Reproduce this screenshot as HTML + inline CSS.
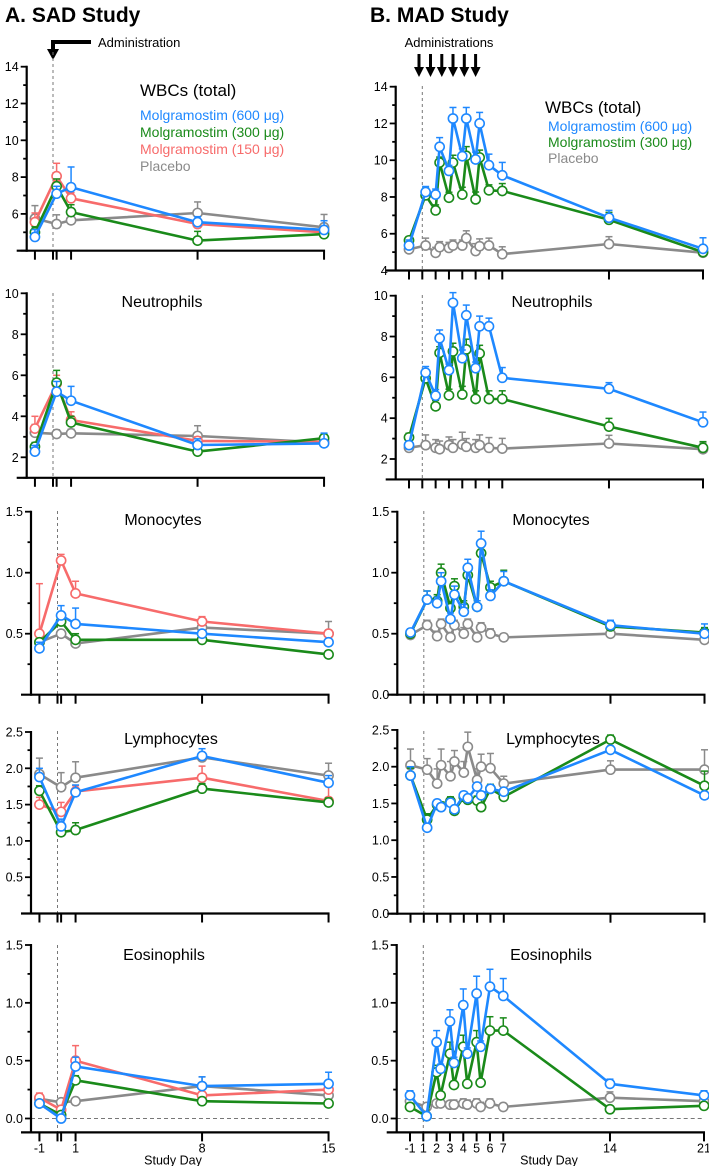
<!DOCTYPE html>
<html><head><meta charset="utf-8">
<style>
html,body{margin:0;padding:0;background:#fff;}
svg{display:block;font-family:"Liberation Sans",sans-serif;}
</style></head>
<body>
<svg id="fig" width="709" height="1166" viewBox="0 0 709 1166">
<text x="5" y="22" font-size="21" font-weight="bold">A. SAD Study</text>
<text x="370" y="22" font-size="21" font-weight="bold">B. MAD Study</text>
<g>
<polyline points="91,42 53,42 53,50" fill="none" stroke="#000" stroke-width="4"/>
<polygon points="47,49 59,49 53,60" fill="#000"/>
<text x="98" y="47" font-size="13">Administration</text>
</g>
<g id="madArrows">
<text x="449" y="47" font-size="13" text-anchor="middle">Administrations</text>
</g>
</svg>
<script>
// ---------- DATA ----------
const sadDays = [-1, 0.2, 1, 8, 15];
const madDays = [-1, 1.25, 2, 2.3, 3, 3.3, 4, 4.3, 5, 5.3, 6, 7, 14, 21];

const sadWbcBlue = [4.75, 7.1, 7.45, 5.55, 5.13];
const sadWbcRed = [5.55, 8.05, 6.85, 5.45, 5.0];
const sadWbcGreen = [5.0, 7.5, 6.1, 4.55, 4.9];
const sadWbcGray = [5.75, 5.45, 5.65, 6.05, 5.27];
const sadWbcBlueErr = [0.4, 0.4, 1.1, 0.3, 0.5];
const sadWbcRedErr = [0.5, 0.7, 0.3, 0.2, 0.2];
const sadWbcGreenErr = [0.3, 0.4, 0.4, 0.5, 0.1];
const sadWbcGrayErr = [0.7, 0.5, 0.3, 0.6, 0.7];

const sadNeuBlue = [2.28, 5.2, 4.76, 2.6, 2.68];
const sadNeuRed = [3.4, 5.6, 3.82, 2.8, 2.76];
const sadNeuGreen = [2.52, 5.64, 3.7, 2.28, 2.93];
const sadNeuGray = [3.2, 3.14, 3.17, 3.04, 2.72];
const sadNeuBlueErr = [0.3, 0.5, 0.7, 0.3, 0.5];
const sadNeuRedErr = [0.6, 0.4, 0.4, 0.2, 0.2];
const sadNeuGreenErr = [0.2, 0.6, 0.3, 0.2, 0.2];
const sadNeuGrayErr = [0.4, 0.2, 0.2, 0.5, 0.4];

const sadMonoBlue = [0.38, 0.65, 0.58, 0.5, 0.43];
const sadMonoRed = [0.5, 1.1, 0.83, 0.6, 0.5];
const sadMonoGreen = [0.43, 0.6, 0.45, 0.45, 0.33];
const sadMonoGray = [0.43, 0.5, 0.42, 0.55, 0.5];
const sadMonoBlueErr = [0.05, 0.08, 0.13, 0.03, 0.02];
const sadMonoRedErr = [0.41, 0.05, 0.1, 0.04, 0.03];
const sadMonoGreenErr = [0.03, 0.05, 0.05, 0.02, 0.03];
const sadMonoGrayErr = [0.03, 0.03, 0.03, 0.05, 0.1];

const sadLymBlue = [1.88, 1.2, 1.67, 2.17, 1.8];
const sadLymRed = [1.5, 1.4, 1.68, 1.87, 1.55];
const sadLymGreen = [1.69, 1.12, 1.15, 1.72, 1.53];
const sadLymGray = [1.92, 1.74, 1.87, 2.15, 1.9];
const sadLymBlueErr = [0.12, 0.1, 0.1, 0.1, 0.1];
const sadLymRedErr = [0.1, 0.13, 0.08, 0.16, 0.2];
const sadLymGreenErr = [0.07, 0.05, 0.1, 0.07, 0.06];
const sadLymGrayErr = [0.22, 0.2, 0.22, 0.05, 0.17];

const sadEosBlue = [0.13, 0.0, 0.45, 0.28, 0.3];
const sadEosRed = [0.18, 0.075, 0.5, 0.2, 0.25];
const sadEosGreen = [0.13, 0.03, 0.33, 0.15, 0.13];
const sadEosGray = [0.17, 0.14, 0.15, 0.28, 0.2];
const sadEosBlueErr = [0.03, 0.02, 0.08, 0.08, 0.1];
const sadEosRedErr = [0.04, 0.03, 0.13, 0.03, 0.08];
const sadEosGreenErr = [0.02, 0.01, 0.04, 0.02, 0.01];
const sadEosGrayErr = [0.03, 0.03, 0.02, 0.08, 0.03];

const madWbcBlue = [5.36, 8.27, 8.13, 10.73, 9.42, 12.27, 10.22, 12.27, 10.04, 12.0, 9.73, 9.18, 6.87, 5.18];
const madWbcGreen = [5.64, 8.09, 7.27, 9.87, 7.96, 9.87, 8.13, 10.24, 7.87, 10.15, 8.36, 8.33, 6.76, 5.0];
const madWbcGray = [5.15, 5.36, 4.96, 5.27, 5.23, 5.36, 5.36, 5.76, 5.06, 5.32, 5.36, 4.89, 5.44, 4.97];
const madWbcBlueErr = [0.3, 0.3, 0.3, 0.5, 0.3, 0.6, 0.4, 0.6, 0.4, 0.6, 0.6, 0.7, 0.4, 0.6];
const madWbcGreenErr = [0.2, 0.4, 0.3, 0.3, 0.3, 0.4, 0.4, 0.5, 0.4, 0.4, 0.3, 0.4, 0.4, 0.2];
const madWbcGrayErr = [0.2, 0.4, 0.3, 0.3, 0.3, 0.3, 0.3, 0.4, 0.4, 0.4, 0.4, 0.4, 0.4, 0.2];

const madNeuBlue = [2.68, 6.23, 5.1, 7.92, 6.35, 9.65, 6.94, 9.04, 6.45, 8.5, 8.5, 5.98, 5.44, 3.8];
const madNeuGreen = [3.06, 5.95, 4.58, 7.2, 5.12, 7.27, 5.16, 7.37, 4.94, 7.17, 4.94, 4.94, 3.59, 2.55];
const madNeuGray = [2.55, 2.68, 2.55, 2.48, 2.68, 2.55, 2.71, 2.6, 2.55, 2.68, 2.55, 2.51, 2.76, 2.48];
const madNeuBlueErr = [0.2, 0.3, 0.3, 0.4, 0.3, 0.5, 0.4, 0.5, 0.3, 0.5, 0.4, 0.5, 0.3, 0.5];
const madNeuGreenErr = [0.2, 0.3, 0.3, 0.3, 0.3, 0.4, 0.4, 0.5, 0.4, 0.4, 0.4, 0.4, 0.4, 0.3];
const madNeuGrayErr = [0.2, 0.5, 0.4, 0.4, 0.4, 0.4, 0.6, 0.4, 0.4, 0.5, 0.5, 0.5, 0.4, 0.3];

const madMonoBlue = [0.51, 0.78, 0.75, 0.93, 0.62, 0.82, 0.68, 1.04, 0.72, 1.24, 0.81, 0.93, 0.57, 0.5];
const madMonoGreen = [0.5, 0.78, 0.77, 1.0, 0.71, 0.89, 0.72, 0.98, 0.72, 1.16, 0.88, 0.93, 0.56, 0.51];
const madMonoGray = [0.49, 0.57, 0.48, 0.58, 0.47, 0.57, 0.5, 0.58, 0.47, 0.55, 0.5, 0.47, 0.5, 0.45];
const madMonoBlueErr = [0.03, 0.07, 0.05, 0.07, 0.05, 0.07, 0.06, 0.07, 0.05, 0.1, 0.05, 0.08, 0.04, 0.08];
const madMonoGreenErr = [0.03, 0.07, 0.05, 0.07, 0.05, 0.06, 0.05, 0.06, 0.05, 0.07, 0.05, 0.09, 0.04, 0.04];
const madMonoGrayErr = [0.03, 0.04, 0.04, 0.04, 0.04, 0.04, 0.05, 0.04, 0.04, 0.04, 0.04, 0.03, 0.03, 0.03];

const madLymBlue = [1.88, 1.17, 1.5, 1.45, 1.51, 1.42, 1.61, 1.57, 1.73, 1.61, 1.7, 1.66, 2.23, 1.61];
const madLymGreen = [1.88, 1.28, 1.48, 1.46, 1.53, 1.4, 1.59, 1.55, 1.54, 1.45, 1.7, 1.59, 2.37, 1.74];
const madLymGray = [2.02, 1.96, 1.77, 2.02, 1.87, 2.07, 1.92, 2.27, 1.82, 2.0, 1.98, 1.77, 1.96, 1.96];
const madLymBlueErr = [0.12, 0.06, 0.05, 0.05, 0.05, 0.05, 0.05, 0.05, 0.05, 0.05, 0.05, 0.05, 0.05, 0.05];
const madLymGreenErr = [0.1, 0.08, 0.06, 0.06, 0.06, 0.06, 0.06, 0.06, 0.06, 0.06, 0.06, 0.05, 0.06, 0.2];
const madLymGrayErr = [0.22, 0.15, 0.2, 0.22, 0.2, 0.15, 0.15, 0.2, 0.15, 0.17, 0.2, 0.1, 0.12, 0.27];

const madEosBlue = [0.2, 0.02, 0.66, 0.43, 0.84, 0.48, 0.98, 0.56, 1.08, 0.62, 1.14, 1.06, 0.3, 0.2];
const madEosGreen = [0.1, 0.02, 0.4, 0.2, 0.56, 0.29, 0.62, 0.3, 0.66, 0.31, 0.76, 0.76, 0.08, 0.11];
const madEosGray = [0.15, 0.1, 0.13, 0.13, 0.12, 0.12, 0.13, 0.12, 0.13, 0.1, 0.13, 0.1, 0.18, 0.15];
const madEosBlueErr = [0.04, 0.01, 0.1, 0.04, 0.1, 0.05, 0.14, 0.05, 0.15, 0.05, 0.15, 0.15, 0.04, 0.04];
const madEosGreenErr = [0.02, 0.01, 0.06, 0.03, 0.1, 0.03, 0.1, 0.03, 0.1, 0.03, 0.12, 0.11, 0.01, 0.02];
const madEosGrayErr = [0.02, 0.01, 0.02, 0.04, 0.03, 0.04, 0.04, 0.04, 0.04, 0.04, 0.04, 0.03, 0.05, 0.02];

const sadTickDays = [-1, 0, 0.2, 1, 8, 15];
const sadTickLabels = ["-1", "", "", "1", "8", "15"];
const madTickDays = [-1, 1, 2, 3, 4, 5, 6, 7, 14, 21];
const madTickLabels = ["-1", "1", "2", "3", "4", "5", "6", "7", "14", "21"];

// ---------- RENDER ----------
const NS = "http://www.w3.org/2000/svg";
const svg = document.getElementById("fig");
const COL = {blue: "#1e88ff", red: "#f76b6b", green: "#1a8a1a", gray: "#8a8a8a"};

function mk(tag, attrs, parent) {
  const e = document.createElementNS(NS, tag);
  for (const k in attrs) e.setAttribute(k, attrs[k]);
  (parent || svg).appendChild(e);
  return e;
}

function sadX(d, off) { return 53 + off + d * 18.07; }
function madX(d, off) {
  let p;
  if (d < 1) p = 422.3 - (1 - d) * 6.65;
  else if (d <= 7) p = 422.3 + (d - 1) * 13.33;
  else if (d <= 14) p = 502.3 + (d - 7) * 15.24;
  else p = 609 + (d - 14) * 13.43;
  return p + off;
}

const ag = document.getElementById("madArrows");
[419, 430.5, 441.8, 453, 464.3, 475.6].forEach(function (ax) {
  const l = mk("line", {x1: ax, y1: 54, x2: ax, y2: 68, stroke: "#000", "stroke-width": 3}, ag);
  
  
  const h = mk("polygon", {points: (ax - 5) + ",67 " + (ax + 5) + ",67 " + ax + ",77", fill: "#000"}, ag);
  
  
});

function panel(cfg) {
  const g = mk("g", {});
  
  
  const yv = function (v) { return cfg.p0 + (v - cfg.v0) * (cfg.p1 - cfg.p0) / (cfg.v1 - cfg.v0); };
  const xf = function (d) { return cfg.xfn(d, cfg.xoff); };
  const base = yv(cfg.min);
  const yTop = yv(cfg.max);
  const dv = mk("line", {x1: xf(cfg.doseDay), x2: xf(cfg.doseDay), y1: cfg.dashTop, y2: base, stroke: "#777", "stroke-width": 1, "stroke-dasharray": "3,3"}, g);
  
  
  if (cfg.zeroLine) {
    const zl = mk("line", {x1: cfg.ax, x2: xf(cfg.tickDays[cfg.tickDays.length - 1]), y1: yv(0), y2: yv(0), stroke: "#777", "stroke-width": 1, "stroke-dasharray": "4,3"}, g);
    
    
  }
  const ya = mk("line", {x1: cfg.ax, x2: cfg.ax, y1: yTop - 1, y2: base + 1, stroke: "#000", "stroke-width": 2.2}, g);
  
  
  const lastX = xf(cfg.tickDays[cfg.tickDays.length - 1]);
  const xa = mk("line", {x1: cfg.ax - 10, x2: lastX + 1, y1: base, y2: base, stroke: "#000", "stroke-width": 2.2}, g);
  
  
  const nSteps = Math.round((cfg.max - cfg.minTick) / cfg.minorStep);
  for (let k = 0; k <= nSteps; k++) {
    const vv = Math.round((cfg.minTick + k * cfg.minorStep) * 1000) / 1000;
    const major = Math.abs(vv / cfg.majorStep - Math.round(vv / cfg.majorStep)) < 1e-6;
    const t = mk("line", {x1: cfg.ax - (major ? 6 : 3.5), x2: cfg.ax, y1: yv(vv), y2: yv(vv), stroke: "#000", "stroke-width": 1.8}, g);
    
    
    if (major && vv >= cfg.minLabel - 1e-9) {
      const tl = mk("text", {x: cfg.ax - 8, y: yv(vv) + 4.5, "font-size": 12.5, "text-anchor": "end"}, g);
      tl.textContent = cfg.fmt(vv);
      
      
    }
  }
  cfg.tickDays.forEach(function (d, i) {
    const t = mk("line", {x1: xf(d), x2: xf(d), y1: base, y2: base + 9, stroke: "#000", "stroke-width": 2}, g);
    
    
    if (cfg.bottom && cfg.tickLabels[i]) {
      const tl = mk("text", {x: xf(d), y: base + 20, "font-size": 12.5, "text-anchor": "middle"}, g);
      tl.textContent = cfg.tickLabels[i];
      
      
    }
  });
  if (cfg.bottom) {
    const xt = mk("text", {x: cfg.xTitleX, y: base + 32, "font-size": 12.5, "text-anchor": "middle"}, g);
    xt.textContent = "Study Day";
    
    
  }
  const tt = mk("text", {x: cfg.titleX, y: cfg.titleY, "font-size": cfg.titleSize, "text-anchor": cfg.titleAnchor || "middle"}, g);
  tt.textContent = cfg.title;
  
  
  cfg.series.forEach(function (s) {
    const sg = mk("g", {}, g);
    
    
    const c = COL[s.key];
    s.vals.forEach(function (v, i) {
      const x = xf(cfg.days[i]), y = yv(v), ye = yv(v + s.err[i]);
      const eb = mk("line", {x1: x, x2: x, y1: y, y2: ye, stroke: c, "stroke-width": 1.5}, sg);
      
      
      const cap = mk("line", {x1: x - 3.5, x2: x + 3.5, y1: ye, y2: ye, stroke: c, "stroke-width": 1.5}, sg);
      
      
    });
    const pts = s.vals.map(function (v, i) { return xf(cfg.days[i]).toFixed(1) + "," + yv(v).toFixed(1); }).join(" ");
    const pl = mk("polyline", {points: pts, fill: "none", stroke: c, "stroke-width": 2.6, "stroke-linejoin": "round"}, sg);
    
    
    s.vals.forEach(function (v, i) {
      const m = mk("circle", {cx: xf(cfg.days[i]), cy: yv(v), r: 4.6, fill: "#fff", stroke: c, "stroke-width": 1.6}, sg);
      
      
    });
  });
  return g;
}

const f0 = function (v) { return String(Math.round(v)); };
const f1 = function (v) { return v.toFixed(1); };

function sadSeries(b, r, gr, gy, be, re, ge, gye) {
  return [{key: "gray", vals: gy, err: gye}, {key: "red", vals: r, err: re}, {key: "green", vals: gr, err: ge}, {key: "blue", vals: b, err: be}];
}
function madSeries(b, gr, gy, be, ge, gye) {
  return [{key: "gray", vals: gy, err: gye}, {key: "green", vals: gr, err: ge}, {key: "blue", vals: b, err: be}];
}

const sadBase = {xfn: sadX, days: sadDays, tickDays: sadTickDays, tickLabels: sadTickLabels, doseDay: 0, xTitleX: 173};
const madBase = {xfn: madX, days: madDays, tickDays: madTickDays, tickLabels: madTickLabels, doseDay: 1, xTitleX: 549};

panel(Object.assign({}, sadBase, {name: "sad-wbc-panel", ax: 26.7, xoff: 0, v0: 14, p0: 66.7, v1: 4, p1: 250.7, min: 4, max: 14, minTick: 4, minLabel: 6, majorStep: 2, minorStep: 1, fmt: f0, dashTop: 52, title: "WBCs (total)", titleX: 140, titleY: 96, titleSize: 17, titleAnchor: "start",
  series: sadSeries(sadWbcBlue, sadWbcRed, sadWbcGreen, sadWbcGray, sadWbcBlueErr, sadWbcRedErr, sadWbcGreenErr, sadWbcGrayErr)}));
panel(Object.assign({}, sadBase, {name: "sad-neutrophils-panel", ax: 26.7, xoff: 0, v0: 10, p0: 293.3, v1: 2, p1: 457.3, min: 1, max: 10, minTick: 1, minLabel: 2, majorStep: 2, minorStep: 1, fmt: f0, dashTop: 293, title: "Neutrophils", titleX: 162, titleY: 307, titleSize: 16,
  series: sadSeries(sadNeuBlue, sadNeuRed, sadNeuGreen, sadNeuGray, sadNeuBlueErr, sadNeuRedErr, sadNeuGreenErr, sadNeuGrayErr)}));
panel(Object.assign({}, sadBase, {name: "sad-monocytes-panel", ax: 31, xoff: 4.5, v0: 1.5, p0: 511.7, v1: 0, p1: 694.7, min: 0, max: 1.5, minTick: 0.25, minLabel: 0.5, majorStep: 0.5, minorStep: 0.25, fmt: f1, dashTop: 511, title: "Monocytes", titleX: 163, titleY: 525, titleSize: 16,
  series: sadSeries(sadMonoBlue, sadMonoRed, sadMonoGreen, sadMonoGray, sadMonoBlueErr, sadMonoRedErr, sadMonoGreenErr, sadMonoGrayErr)}));
panel(Object.assign({}, sadBase, {name: "sad-lymphocytes-panel", ax: 31, xoff: 4.5, v0: 2.0, p0: 768.3, v1: 0, p1: 913.5, min: 0, max: 2.5, minTick: 0.25, minLabel: 0.5, majorStep: 0.5, minorStep: 0.25, fmt: f1, dashTop: 731, title: "Lymphocytes", titleX: 171, titleY: 744, titleSize: 16,
  series: sadSeries(sadLymBlue, sadLymRed, sadLymGreen, sadLymGray, sadLymBlueErr, sadLymRedErr, sadLymGreenErr, sadLymGrayErr)}));
panel(Object.assign({}, sadBase, {name: "sad-eosinophils-panel", ax: 31, xoff: 4.5, v0: 1.5, p0: 945, v1: 0, p1: 1118.5, min: -0.12, max: 1.5, minTick: 0, minLabel: 0, majorStep: 0.5, minorStep: 0.25, fmt: f1, dashTop: 945, zeroLine: true, bottom: true, title: "Eosinophils", titleX: 164, titleY: 960, titleSize: 16,
  series: sadSeries(sadEosBlue, sadEosRed, sadEosGreen, sadEosGray, sadEosBlueErr, sadEosRedErr, sadEosGreenErr, sadEosGrayErr)}));

panel(Object.assign({}, madBase, {name: "mad-wbc-panel", ax: 395.7, xoff: 0, v0: 14, p0: 86.7, v1: 4, p1: 270.5, min: 4, max: 14, minTick: 4, minLabel: 4, majorStep: 2, minorStep: 1, fmt: f0, dashTop: 86, title: "WBCs (total)", titleX: 545, titleY: 113, titleSize: 17, titleAnchor: "start",
  series: madSeries(madWbcBlue, madWbcGreen, madWbcGray, madWbcBlueErr, madWbcGreenErr, madWbcGrayErr)}));
panel(Object.assign({}, madBase, {name: "mad-neutrophils-panel", ax: 395.7, xoff: 0, v0: 10, p0: 295.7, v1: 2, p1: 459, min: 1, max: 10, minTick: 1, minLabel: 2, majorStep: 2, minorStep: 1, fmt: f0, dashTop: 295, title: "Neutrophils", titleX: 552, titleY: 307, titleSize: 16,
  series: madSeries(madNeuBlue, madNeuGreen, madNeuGray, madNeuBlueErr, madNeuGreenErr, madNeuGrayErr)}));
panel(Object.assign({}, madBase, {name: "mad-monocytes-panel", ax: 397.3, xoff: 1.5, v0: 1.5, p0: 511.7, v1: 0, p1: 694.7, min: 0, max: 1.5, minTick: 0, minLabel: 0, majorStep: 0.5, minorStep: 0.25, fmt: f1, dashTop: 511, title: "Monocytes", titleX: 551, titleY: 525, titleSize: 16,
  series: madSeries(madMonoBlue, madMonoGreen, madMonoGray, madMonoBlueErr, madMonoGreenErr, madMonoGrayErr)}));
panel(Object.assign({}, madBase, {name: "mad-lymphocytes-panel", ax: 397.3, xoff: 1.5, v0: 2.0, p0: 766.7, v1: 0, p1: 913.7, min: 0, max: 2.5, minTick: 0, minLabel: 0, majorStep: 0.5, minorStep: 0.25, fmt: f1, dashTop: 731, title: "Lymphocytes", titleX: 553, titleY: 744, titleSize: 16,
  series: madSeries(madLymBlue, madLymGreen, madLymGray, madLymBlueErr, madLymGreenErr, madLymGrayErr)}));
panel(Object.assign({}, madBase, {name: "mad-eosinophils-panel", ax: 396.7, xoff: 1, v0: 1.5, p0: 945, v1: 0, p1: 1118.5, min: -0.12, max: 1.5, minTick: 0, minLabel: 0, majorStep: 0.5, minorStep: 0.25, fmt: f1, dashTop: 945, zeroLine: true, bottom: true, title: "Eosinophils", titleX: 551, titleY: 960, titleSize: 16,
  series: madSeries(madEosBlue, madEosGreen, madEosGray, madEosBlueErr, madEosGreenErr, madEosGrayErr)}));

function legend(x, ys, items, name) {
  const lg = mk("g", {});
  
  
  items.forEach(function (it, i) {
    const t = mk("text", {x: x, y: ys[i], "font-size": 14, fill: COL[it[0]]}, lg);
    t.textContent = it[1];
    
    
  });
}
legend(140, [120, 137, 154, 171], [["blue", "Molgramostim (600 \u03bcg)"], ["green", "Molgramostim (300 \u03bcg)"], ["red", "Molgramostim (150 \u03bcg)"], ["gray", "Placebo"]], "sad-legend");
legend(548, [131, 147, 163], [["blue", "Molgramostim (600 \u03bcg)"], ["green", "Molgramostim (300 \u03bcg)"], ["gray", "Placebo"]], "mad-legend");
</script>
</body></html>
